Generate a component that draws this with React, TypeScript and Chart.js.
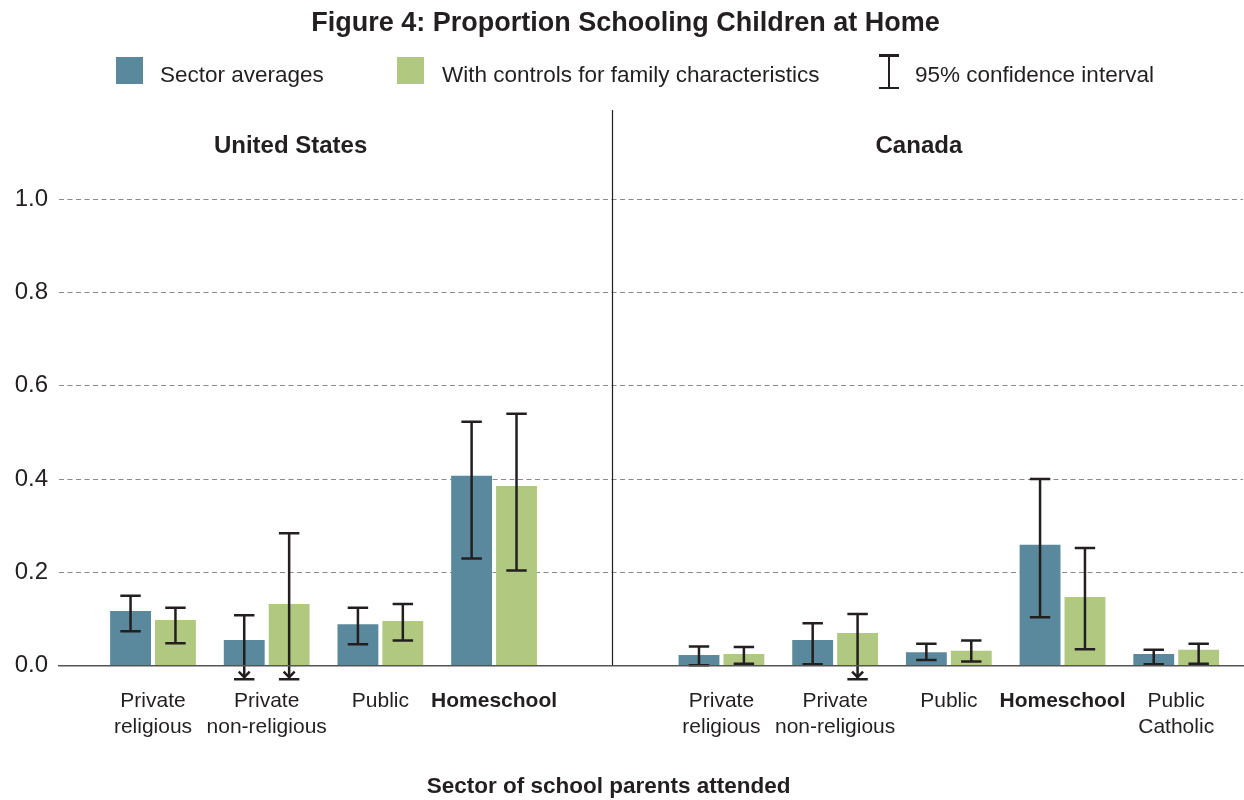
import React, { useEffect, useRef } from 'react';
import { Chart, registerables } from 'chart.js';

Chart.register(...registerables);

// Sector of school the parents attended, per country (multi-line tick labels)
const US_SECTORS = [['Private', 'religious'], ['Private', 'non-religious'], ['Public'], ['Homeschool']];
const CA_SECTORS = [['Private', 'religious'], ['Private', 'non-religious'], ['Public'], ['Homeschool'], ['Public', 'Catholic']];
const BOLD_SECTOR = 'Homeschool';

// Proportion schooling children at home: sector averages
const US_AVG = [0.117, 0.055, 0.089, 0.407];
const US_AVG_LO = [0.074, -0.029, 0.046, 0.23];
const US_AVG_HI = [0.15, 0.108, 0.124, 0.523];
const CA_AVG = [0.023, 0.055, 0.029, 0.259, 0.025];
const CA_AVG_LO = [0.001, 0.003, 0.012, 0.104, 0.003];
const CA_AVG_HI = [0.041, 0.091, 0.047, 0.4, 0.034];

// With controls for family characteristics
const US_CTRL = [0.098, 0.132, 0.096, 0.385];
const US_CTRL_LO = [0.048, -0.029, 0.054, 0.204];
const US_CTRL_HI = [0.124, 0.284, 0.132, 0.54];
const CA_CTRL = [0.025, 0.07, 0.032, 0.147, 0.034];
const CA_CTRL_LO = [0.004, -0.029, 0.009, 0.035, 0.004];
const CA_CTRL_HI = [0.04, 0.111, 0.054, 0.252, 0.047];

const Y_TICKS = [0, 0.2, 0.4, 0.6, 0.8, 1.0];

const BLUE = '#5a889c';
const GREEN = '#b0c880';
const INK = '#231f20';
const FONT = '"Liberation Sans", Arial, Helvetica, sans-serif';

// Slots on the x axis: the US panel, one empty slot, then the Canada panel
const US_SLOTS = US_SECTORS.map((_, i) => i);
const CA_SLOTS = CA_SECTORS.map((_, i) => US_SECTORS.length + 1 + i);
const SLOTS = [...US_SLOTS, ...CA_SLOTS];
const LABELS = [...US_SECTORS, ...CA_SECTORS];
const PANEL_SPLIT = 4.04;

const toPoints = (vals: number[]) => vals.map((y, i) => ({ x: SLOTS[i], y }));

// Confidence intervals; a lower bound below zero is drawn as a truncated arrow
const errorBars = {
  id: 'errorBars',
  afterDatasetsDraw(chart: any) {
    const { ctx } = chart;
    const yScale = chart.scales.y;
    chart.data.datasets.forEach((ds: any, di: number) => {
      const meta = chart.getDatasetMeta(di);
      meta.data.forEach((bar: any, i: number) => {
        const lo = ds.ciLow[i];
        const hi = ds.ciHigh[i];
        const x = bar.x;
        const half = bar.width * 0.25;
        const yHi = yScale.getPixelForValue(hi);
        const yLo = yScale.getPixelForValue(lo);
        ctx.save();
        ctx.strokeStyle = INK;
        ctx.lineWidth = 2.5;
        ctx.lineCap = 'butt';
        ctx.beginPath();
        ctx.moveTo(x, yHi);
        ctx.lineTo(x, yLo);
        ctx.moveTo(x - half, yHi);
        ctx.lineTo(x + half, yHi);
        ctx.moveTo(x - half, yLo);
        ctx.lineTo(x + half, yLo);
        ctx.stroke();
        if (lo < 0) {
          ctx.beginPath();
          ctx.moveTo(x - 5.5, yLo - 7.5);
          ctx.lineTo(x, yLo - 2);
          ctx.lineTo(x + 5.5, yLo - 7.5);
          ctx.stroke();
        }
        ctx.restore();
      });
    });
  },
};

// Vertical rule separating the two country panels
const panelDivider = {
  id: 'panelDivider',
  afterDatasetsDraw(chart: any) {
    const { ctx, chartArea, scales } = chart;
    const x = Math.round(scales.x.getPixelForValue(PANEL_SPLIT)) + 0.5;
    ctx.save();
    ctx.strokeStyle = INK;
    ctx.lineWidth = 1.2;
    ctx.beginPath();
    ctx.moveTo(x, chartArea.top);
    ctx.lineTo(x, chartArea.bottom);
    ctx.stroke();
    ctx.restore();
  },
};

function SchoolingChart() {
  const ref = useRef<HTMLCanvasElement | null>(null);

  useEffect(() => {
    if (!ref.current) return;
    const chart = new Chart(ref.current, {
      type: 'bar',
      data: {
        datasets: [
          {
            label: 'Sector averages',
            data: toPoints([...US_AVG, ...CA_AVG]),
            backgroundColor: BLUE,
            ciLow: [...US_AVG_LO, ...CA_AVG_LO],
            ciHigh: [...US_AVG_HI, ...CA_AVG_HI],
          } as any,
          {
            label: 'With controls for family characteristics',
            data: toPoints([...US_CTRL, ...CA_CTRL]),
            backgroundColor: GREEN,
            ciLow: [...US_CTRL_LO, ...CA_CTRL_LO],
            ciHigh: [...US_CTRL_HI, ...CA_CTRL_HI],
          } as any,
        ],
      },
      options: {
        animation: false,
        responsive: true,
        maintainAspectRatio: false,
        layout: { padding: { top: 110, right: 1, left: 0, bottom: 0 } },
        plugins: {
          legend: { display: false },
          tooltip: { enabled: false },
          title: { display: false },
        },
        datasets: { bar: { categoryPercentage: 0.79, barPercentage: 0.91 } },
        scales: {
          x: {
            type: 'linear',
            offset: false,
            min: -0.8268,
            max: 9.5876,
            grid: { display: false, drawTicks: false, offset: false },
            border: { display: true, color: '#555555', width: 1.5, z: 1 },
            afterBuildTicks: (axis: any) => {
              axis.ticks = SLOTS.map((v) => ({ value: v }));
            },
            afterFit: (axis: any) => {
              axis.height = 134.3;
            },
            ticks: {
              autoSkip: false,
              maxRotation: 0,
              minRotation: 0,
              padding: 23,
              color: INK,
              callback: (_v: any, i: number) => LABELS[i],
              font: (c: any) => ({
                family: FONT,
                size: 21,
                lineHeight: 1.22,
                weight: LABELS[c.index] && LABELS[c.index][0] === BOLD_SECTOR ? 'bold' : 'normal',
              }),
            },
          } as any,
          y: {
            min: 0,
            max: 1.191,
            afterBuildTicks: (axis: any) => {
              axis.ticks = Y_TICKS.map((v) => ({ value: v }));
            },
            afterFit: (axis: any) => {
              axis.width = 59;
            },
            grid: {
              drawTicks: false,
              color: (c: any) => (c.tick && c.tick.value === 0 ? 'rgba(0,0,0,0)' : '#8a8a8a'),
              lineWidth: 1,
            },
            border: { display: false, dash: [5, 3.5] },
            ticks: {
              padding: 11,
              color: INK,
              font: { family: FONT, size: 24 },
              callback: (v: any) => Number(v).toFixed(1),
            },
          } as any,
        },
      },
      plugins: [errorBars, panelDivider],
    } as any);
    return () => chart.destroy();
  }, []);

  return <canvas ref={ref} />;
}

const abs = (left: number, top: number, extra: React.CSSProperties = {}): React.CSSProperties => ({
  position: 'absolute',
  left,
  top,
  whiteSpace: 'nowrap',
  lineHeight: 1,
  ...extra,
});

export default function App() {
  return (
    <div
      style={{
        position: 'absolute',
        left: 0,
        top: 0,
        width: 1244,
        height: 800,
        background: '#ffffff',
        fontFamily: FONT,
        color: INK,
        overflow: 'hidden',
      }}
    >
      <div style={{ position: 'absolute', left: 0, top: 0, width: 1244, height: 800 }}>
        <SchoolingChart />
      </div>

      <div style={abs(625.6, 8.8, { transform: 'translateX(-50%)', fontSize: 27, fontWeight: 'bold' })}>
        Figure 4: Proportion Schooling Children at Home
      </div>

      <div style={abs(116, 57, { width: 27, height: 27, background: BLUE })} />
      <div style={abs(160, 63.7, { fontSize: 22.5 })}>Sector averages</div>
      <div style={abs(397, 57, { width: 27, height: 27, background: GREEN })} />
      <div style={abs(442, 63.7, { fontSize: 22.5 })}>With controls for family characteristics</div>
      <div style={abs(879, 54, { width: 20, height: 35 })}>
        <div style={{ position: 'absolute', left: 0, top: 0, width: 20, height: 2.5, background: INK }} />
        <div style={{ position: 'absolute', left: 8.75, top: 0, width: 2.5, height: 35, background: INK }} />
        <div style={{ position: 'absolute', left: 0, bottom: 0, width: 20, height: 2.5, background: INK }} />
      </div>
      <div style={abs(915, 63.7, { fontSize: 22.5 })}>95% confidence interval</div>

      <div style={abs(290.6, 133, { transform: 'translateX(-50%)', fontSize: 24, fontWeight: 'bold' })}>
        United States
      </div>
      <div style={abs(918.9, 133, { transform: 'translateX(-50%)', fontSize: 24, fontWeight: 'bold' })}>
        Canada
      </div>

      <div style={abs(608.7, 775.3, { transform: 'translateX(-50%)', fontSize: 22.5, fontWeight: 'bold' })}>
        Sector of school parents attended
      </div>
    </div>
  );
}
